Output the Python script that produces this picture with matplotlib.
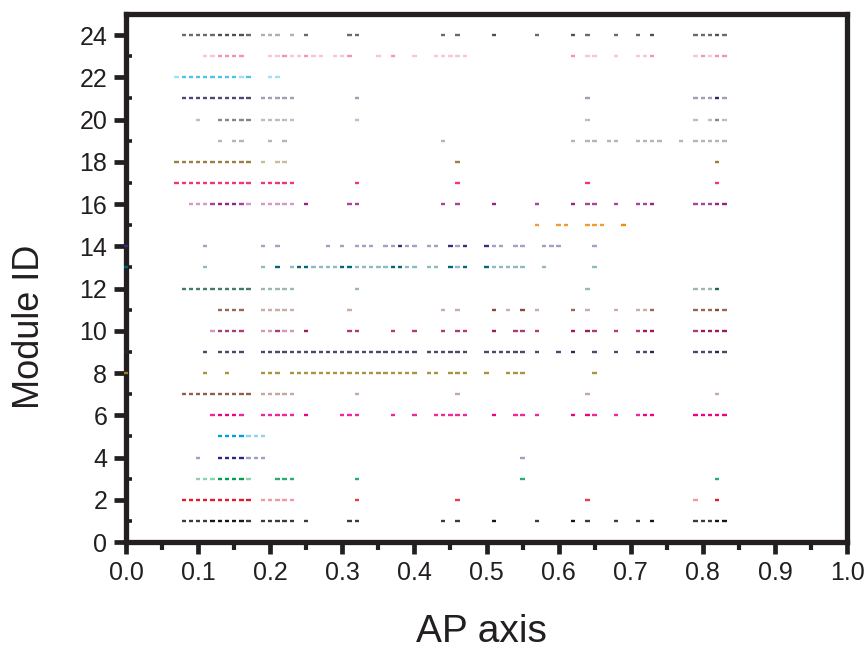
import numpy as np
import matplotlib.pyplot as plt

plt.rcParams['font.family'] = ['Liberation Sans', 'DejaVu Sans']

# ==== DATA ====
# AP axis is split in bins of 0.01, one character per bin (groups of ten):
# 0 = nothing, 1 = faint, 2 = medium, 3 = strong
module_ids = list(range(1, 25))
module_colors = [
    "#181818", "#e81828", "#00a050", "#28288a", "#00a0e0", "#f0008a",
    "#804030", "#9a8020", "#2a2858", "#a01860", "#8a4a38", "#206848",
    "#006878", "#3a2a80", "#f08a10", "#9a2090", "#f01060", "#8a6a20",
    "#a8a8a8", "#707070", "#2a2a60", "#30b8e8", "#f080b0", "#505050",
]
m01 = "0000000022|2233333202|2222020000|0220000000|0000202000|0300000200|0030200020|0203000002|2233000000"
m02 = "0000000033|3333333301|1111000000|0020000000|0000002000|0000000000|0000200000|0000000001|0030000000"
m03 = "0000000000|1113333100|0222000000|0020000000|0000000000|0000020000|0000000000|0000000000|0020000000"
m04 = "0000000000|1003333111|0000000000|0000000000|0000000000|0000010000"
m05 = "0000000000|0003333111"
m06 = "0000000000|0023332002|2222030000|2220000200|2002222200|0300220200|0030320020|0233000003|3333000000"
m07 = "0000000022|2222222201|1111000000|0010000000|0000001000|0000000000|0000100000|0000000000|0010000000"
m08 = "3000000000|0200200002|2202222222|2222222222|2022022200|2002220000|0000020000"
m09 = "1000000000|0202222002|2222222222|2222222222|2022222200|2222220200|2030020020|0223000002|2232000000"
m10 = "0000000000|0012222001|1211030000|0220000200|2000202200|0300220200|0030320020|0233000002|3333000000"
m11 = "0000000000|0002222001|1111000000|0100000000|0000101000|0301030100|0020100010|0112000002|2232000000"
m12 = "0000000022|2222222201|1111000000|0010000000|0000000000|0000000000|0000100000|0000000001|1130000000"
m13 = "3000000000|0100000001|0301331111|3311111331|1011031300|3111110010|0000010000"
m14 = "3000000000|0100000001|0100000010|1011101131|1011031300|3110110011|1000010000"
m15 = "0000000000|0000000000|0000000000|0000000000|0000000000|0000000200|2200222003"
m16 = "0000000001|1123332101|1111030000|0220000000|0000202000|0300000200|0030220020|0223000002|2233000000"
m17 = "0000000222|2222222202|2222000000|0020000000|0000002000|0000000000|0000200000|0000000000|0020000000"
m18 = "0000000222|2222222201|0110000000|0000000000|0000002000|0000000000|0000000000|0000000000|0020000000"
m19 = "0000000000|0002022000|2020000000|0000000000|0000200000|0000000000|0020220220|0222200202|2222000000"
m20 = "0000000000|1002222201|1111000000|0010000000|0000000000|0000000000|0000100000|0000000001|0121000000"
m21 = "0000000022|2222222201|1111000000|0010000000|0000000000|0000000000|0000100000|0000000001|1131000000"
m22 = "0000000122|2222221200|1100000000"
m23 = "0000000000|0112222000|1121121101|1200010200|1001111100|0000000000|0020110010|0112000001|2122000000"
m24 = "0000000022|2223333201|1101020000|0220000000|0000202000|0300000200|0030200020|0203000002|2232000000"
patterns = [m01, m02, m03, m04, m05, m06, m07, m08, m09, m10, m11, m12,
            m13, m14, m15, m16, m17, m18, m19, m20, m21, m22, m23, m24]

x_ticks = [0.0, 0.1, 0.2, 0.3, 0.4, 0.5, 0.6, 0.7, 0.8, 0.9, 1.0]
y_ticks = [0, 2, 4, 6, 8, 10, 12, 14, 16, 18, 20, 22, 24]

alpha_of = {'1': 0.45, '2': 0.85, '3': 1.0}
half = 0.003  # half length of a dash on the AP axis
ink = "#231f20"

# ==== PLOT ====
fig = plt.figure(figsize=(8.65, 6.52), dpi=100)
ax = fig.add_axes([126 / 865, 110 / 652, 721 / 865, 528 / 652])

for mid, col, pat in zip(module_ids, module_colors, patterns):
    pat = pat.replace('|', '')
    for b, ch in enumerate(pat):
        if ch == '0':
            continue
        x = b / 100
        ax.hlines(mid, x - half, x + half, color=col, alpha=alpha_of[ch],
                  lw=1.7, zorder=3, clip_on=False)

ax.set_xlim(0, 1)
ax.set_ylim(0, 25)
ax.set_xticks(x_ticks)
ax.set_xticklabels([f"{v:.1f}" for v in x_ticks])
ax.set_xticks(np.arange(0.05, 1, 0.1), minor=True)
ax.set_yticks(y_ticks)
ax.set_yticks(range(1, 25, 2), minor=True)

for s in ax.spines.values():
    s.set_linewidth(3.8)
    s.set_color(ink)

ax.tick_params(which='major', length=8.5, width=3.4, direction='out',
               labelsize=18, color=ink, labelcolor=ink)
ax.tick_params(axis='x', which='major', pad=5)
ax.tick_params(axis='y', which='major', pad=5)
ax.tick_params(axis='x', which='minor', length=6, width=3.0, direction='out', color=ink)
ax.tick_params(axis='y', which='minor', length=4.5, width=2.6, direction='in', color=ink)

fig.text(30 / 865, 1 - 327 / 652, "Module ID", rotation=90, fontsize=26,
         ha='center', va='center', color=ink)
fig.text(481 / 865, 1 - 632 / 652, "AP axis", fontsize=28,
         ha='center', va='center', color=ink)

plt.savefig("out.png", dpi=100)
plt.close()
